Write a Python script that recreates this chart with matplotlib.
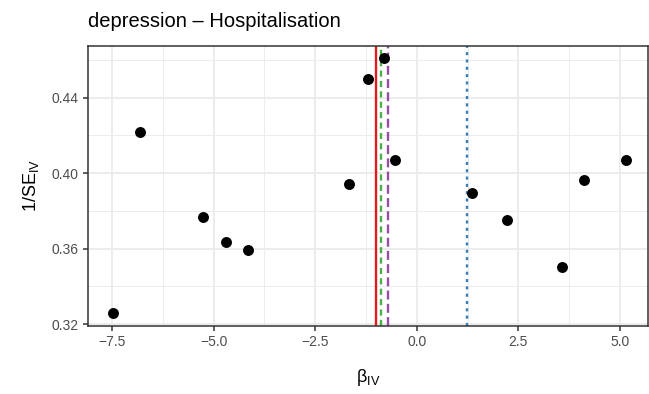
import matplotlib
matplotlib.use("Agg")
import matplotlib.pyplot as plt
from matplotlib.ticker import MultipleLocator

plt.rcParams['font.family'] = ['Liberation Sans', 'DejaVu Sans']
plt.rcParams['mathtext.fontset'] = 'custom'
plt.rcParams['mathtext.rm'] = 'Liberation Sans'
plt.rcParams['mathtext.it'] = 'Liberation Sans:italic'

# IV estimates and their precision
beta_iv = [-7.47, -6.80, -5.25, -4.69, -4.15, -1.66, -1.20, -0.80, -0.53,
           1.35, 2.21, 3.57, 4.12, 5.15]
inv_se = [0.3259, 0.4218, 0.3768, 0.3635, 0.3593, 0.3943, 0.4499, 0.4610,
          0.4070, 0.3894, 0.3751, 0.3503, 0.3964, 0.4070]

# summary estimates (vertical lines)
est_names = ["ivw", "egger", "median", "mode"]
est_values = [-1.01, -0.89, -0.72, 1.24]
est_colors = ["#E41A1C", "#4DAF4A", "#984EA3", "#377EB8"]
est_styles = ["-", (0, (2.6, 1.8)), (0, (3.8, 1.8)), (0, (1.3, 1.8))]

fig = plt.figure(figsize=(6.49, 3.94), dpi=100)
ax = fig.add_axes([88 / 649, 68.5 / 394, 560 / 649, 279.8 / 394])

for v, c, ls in zip(est_values, est_colors, est_styles):
    ax.axvline(v, color=c, linestyle=ls, lw=1.7, zorder=2)

ax.scatter(beta_iv, inv_se, s=62, color="black", linewidths=0, zorder=3)

ax.set_xlim(-8.09, 5.69)
ax.set_ylim(0.3193, 0.4675)
ax.xaxis.set_major_locator(MultipleLocator(2.5))
ax.xaxis.set_minor_locator(MultipleLocator(1.25))
ax.yaxis.set_major_locator(MultipleLocator(0.04))
ax.yaxis.set_minor_locator(MultipleLocator(0.02))
ax.xaxis.set_major_formatter(matplotlib.ticker.FuncFormatter(
    lambda v, p: f"{v:.1f}".replace("-", "\u2212")))
ax.yaxis.set_major_formatter(matplotlib.ticker.FuncFormatter(lambda v, p: f"{v:.2f}"))

ax.grid(which="major", color="#EBEBEB", lw=1.3, zorder=0)
ax.grid(which="minor", color="#EBEBEB", lw=0.65, zorder=0)
ax.set_axisbelow(True)
for s in ax.spines.values():
    s.set_color("#333333")
    s.set_linewidth(1.1)
ax.tick_params(which="major", length=3.5, width=1.1, color="#333333",
               labelsize=10, labelcolor="#4D4D4D", pad=3)
ax.tick_params(which="minor", length=0)

ax.set_xlabel(r"$\mathrm{\beta}_{\mathrm{IV}}$", fontsize=13, labelpad=13)
ax.set_ylabel(r"$\mathrm{1/SE}_{\mathrm{IV}}$", fontsize=13, labelpad=8)
fig.text(88 / 649, 1 - 27 / 394, "depression \u2013 Hospitalisation",
         fontsize=14.5, ha="left", va="baseline")

fig.savefig("out.png", dpi=100)
